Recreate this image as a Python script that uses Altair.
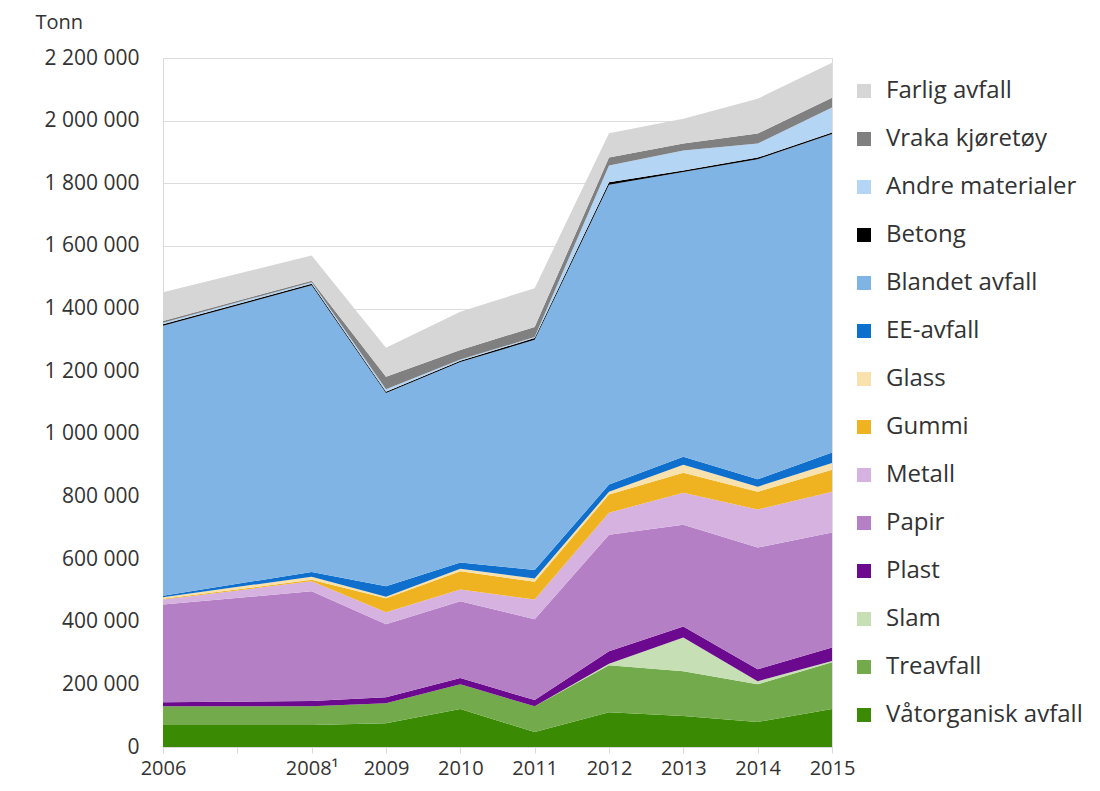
import altair as alt
import pandas as pd

years = [2006, 2008, 2009, 2010, 2011, 2012, 2013, 2014, 2015]

vatorganisk = [70000, 70000, 76000, 121000, 48000, 111000, 99000, 80000, 121000]
treavfall = [60000, 60000, 64000, 79000, 82000, 150000, 143000, 120000, 150000]
slam = [0, 0, 0, 0, 0, 5000, 108000, 10000, 4000]
plast = [13000, 17000, 19000, 20000, 20000, 40000, 35000, 38000, 43000]
papir = [312000, 350000, 233000, 245000, 258000, 372000, 325000, 389000, 367000]
metall = [16000, 32000, 38000, 38000, 63000, 70000, 102000, 121000, 130000]
gummi = [2000, 5000, 45000, 58000, 57000, 58000, 64000, 57000, 70000]
glass = [5000, 10000, 5000, 8000, 10000, 9000, 25000, 16000, 22000]
ee_avfall = [5000, 15000, 33000, 20000, 27000, 23000, 26000, 24000, 33000]
blandet = [862000, 915000, 617000, 640000, 735000, 957000, 909000, 1022000, 1017000]
betong = [5000, 5000, 4000, 4000, 6000, 8000, 5000, 5000, 5000]
andre = [5000, 5000, 8000, 4000, 3000, 54000, 64000, 45000, 80000]
vraka = [5000, 5000, 40000, 31000, 32000, 25000, 22000, 32000, 31000]
farlig = [92000, 80000, 93000, 122000, 124000, 78000, 79000, 111000, 112000]

# bottom -> top stacking order
series = [
    ("Våtorganisk avfall", vatorganisk, "#3b8a03"),
    ("Treavfall", treavfall, "#73aa4c"),
    ("Slam", slam, "#c6dfb4"),
    ("Plast", plast, "#6b0a8e"),
    ("Papir", papir, "#b47fc4"),
    ("Metall", metall, "#d6b2e0"),
    ("Gummi", gummi, "#efb322"),
    ("Glass", glass, "#f8e1ad"),
    ("EE-avfall", ee_avfall, "#0f6fcd"),
    ("Blandet avfall", blandet, "#80b4e4"),
    ("Betong", betong, "#000000"),
    ("Andre materialer", andre, "#b4d5f3"),
    ("Vraka kjøretøy", vraka, "#808080"),
    ("Farlig avfall", farlig, "#d6d6d6"),
]

rows = []
for idx, (name, vals, _c) in enumerate(series):
    for y, v in zip(years, vals):
        rows.append({"year": y, "type": name, "value": v, "idx": idx})
df = pd.DataFrame(rows)

legend_domain = [s[0] for s in reversed(series)]
legend_range = [s[2] for s in reversed(series)]

FONT = "Open Sans"
TXT = "#333333"

chart = (
    alt.Chart(df)
    .mark_area(interpolate="linear")
    .encode(
        x=alt.X(
            "year:Q",
            scale=alt.Scale(domain=[2006, 2015], nice=False, zero=False),
            axis=alt.Axis(
                title=None,
                values=list(range(2006, 2016)),
                labelExpr="datum.value == 2007 ? '' : (datum.value == 2008 ? '2008¹' : '' + datum.value)",
                grid=False,
                ticks=True,
                tickSize=6,
                tickColor="#d9d9d9",
                domainColor="#d9d9d9",
                labelFont=FONT,
                labelFontSize=20,
                labelColor=TXT,
                labelPadding=5,
                labelFlush=False,
                labelOverlap=False,
            ),
        ),
        y=alt.Y(
            "value:Q",
            stack="zero",
            scale=alt.Scale(domain=[0, 2200000], nice=False),
            axis=alt.Axis(
                title="Tonn",
                titleAngle=0,
                titleAlign="left",
                titleBaseline="middle",
                titleX=-128,
                titleY=-36,
                titleFont=FONT,
                titleFontSize=20,
                titleFontWeight="normal",
                titleColor=TXT,
                values=list(range(0, 2200001, 200000)),
                labelExpr="replace(format(datum.value, ','), regexp(',', 'g'), ' ')",
                ticks=False,
                grid=True,
                gridColor="#dcdcdc",
                gridWidth=1.2,
                domainColor="#d9d9d9",
                labelFont=FONT,
                labelFontSize=21,
                labelColor=TXT,
                labelPadding=24,
            ),
        ),
        color=alt.Color(
            "type:N",
            scale=alt.Scale(domain=legend_domain, range=legend_range),
            legend=alt.Legend(
                title=None,
                orient="none",
                legendX=689,
                legendY=21,
                symbolType="square",
                symbolSize=196,
                symbolStrokeWidth=0,
                symbolOpacity=1,
                labelFont=FONT,
                labelFontSize=24,
                labelColor=TXT,
                labelOffset=10,
                rowPadding=24,
                padding=0,
                labelLimit=400,
            ),
        ),
        order=alt.Order("idx:Q", sort="ascending"),
    )
    .properties(
        width=669,
        height=689,
        autosize=alt.AutoSizeParams(type="none"),
        padding={"left": 155, "top": 50, "right": 258, "bottom": 36},
    )
    .configure_view(stroke=None)
    .configure(background="white")
)

chart.save("out.html", embed_options={"renderer": "svg", "actions": False})
